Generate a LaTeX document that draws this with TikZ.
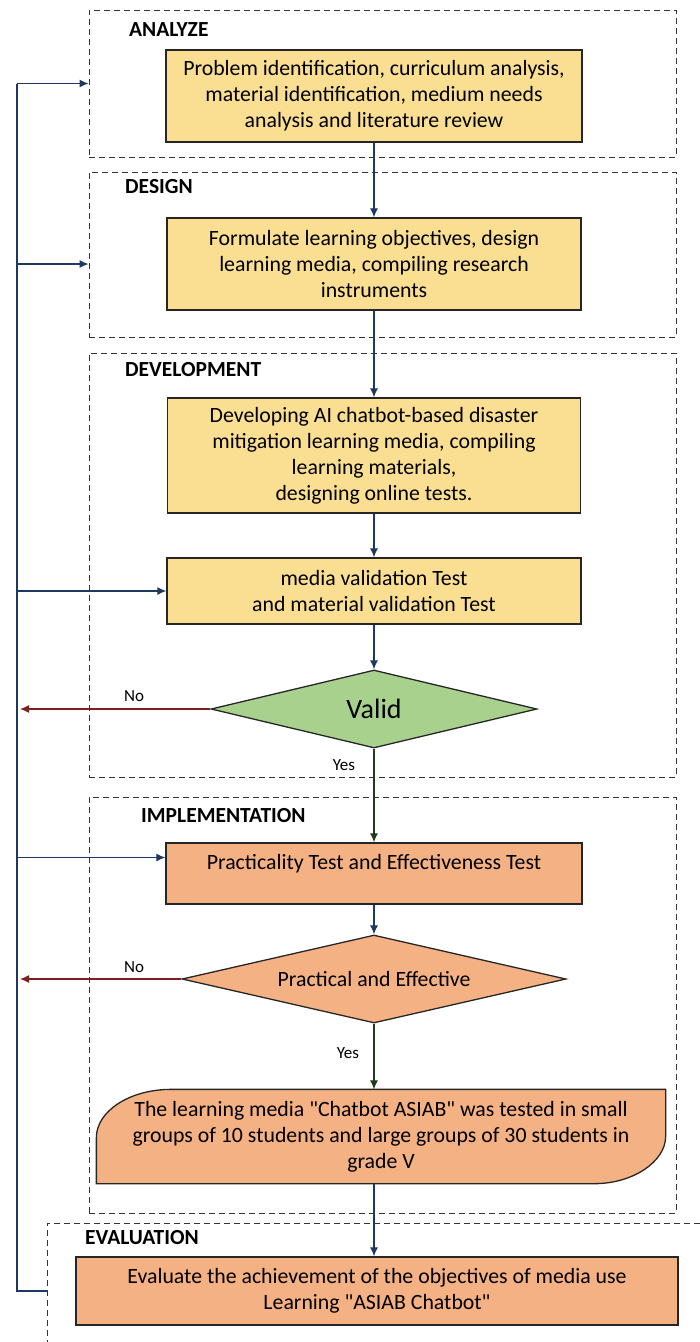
\documentclass[tikz,border=0pt]{standalone}
\usepackage{fontspec}
\setmainfont{Carlito}[Ligatures=TeXOff]
\usetikzlibrary{arrows.meta,shapes.geometric,calc,backgrounds}
\definecolor{boxyellow}{HTML}{FADF92}
\definecolor{boxorange}{HTML}{F4B183}
\definecolor{boxgreen}{HTML}{A9D18E}
\definecolor{arrnavy}{HTML}{1F3763}
\definecolor{arrred}{HTML}{7F1F1F}
\definecolor{arrgreen}{HTML}{1E3B1E}

\begin{document}
\begin{tikzpicture}[x=1pt,y=-1pt,
	stage/.style={draw=black!80,dash pattern=on 6pt off 4pt,line width=1pt,inner sep=0pt},
	phase/.style={anchor=west,font=\fontsize{21.5}{24}\selectfont\bfseries,inner sep=0pt},
	proc/.style={draw=black!85,line width=1.3pt,align=center,inner sep=0pt,font=\fontsize{21.8}{26}\selectfont},
	yel/.style={proc,fill=boxyellow},
	org/.style={proc,fill=boxorange},
	dec/.style={diamond,draw=black!85,line width=1.3pt,inner sep=0pt},
	flow/.style={-{Latex[length=9pt,width=8pt]},line width=1.2pt,draw=arrnavy},
	nobranch/.style={flow,draw=arrred},
	yesbranch/.style={flow,draw=arrgreen},
	tag/.style={font=\fontsize{17}{19}\selectfont,inner sep=0pt}]
	\useasboundingbox (0,0) rectangle (700,1342);
	% phases
	\node[stage,minimum width=587pt,minimum height=147pt] (anaF) at (382.5,83.5) {};
	\node[stage,minimum width=587pt,minimum height=165pt] (desF) at (382.5,254.5) {};
	\node[stage,minimum width=587pt,minimum height=424pt] (devF) at (382.5,565) {};
	\node[stage,minimum width=587pt,minimum height=416pt] (impF) at (382.5,1005) {};
	\node[stage,minimum width=673pt,minimum height=137pt] (evaF) at (383.5,1291.5) {};
	\node[phase] (anaL) at (129,30) {ANALYZE};
	\node[phase] (desL) at (125,187) {DESIGN};
	\node[phase] (devL) at (125,370) {DEVELOPMENT};
	\node[phase] (impL) at (141,816) {IMPLEMENTATION};
	\node[phase] (evaL) at (85,1238) {EVALUATION};
	% steps
	\node[yel,minimum width=416pt,minimum height=92pt] (b1) at (374,96)
		{Problem identification, curriculum analysis,\\ material identification, medium needs\\ analysis and literature review};
	\node[yel,minimum width=414pt,minimum height=92pt] (b2) at (374,264)
		{Formulate learning objectives, design\\ learning media, compiling research\\ instruments};
	\node[yel,minimum width=413pt,minimum height=115pt] (b3) at (374,455.5)
		{Developing AI chatbot-based disaster\\ mitigation learning media, compiling\\ learning materials,\\ designing online tests.};
	\node[yel,minimum width=414pt,minimum height=66pt] (b4) at (374,591)
		{media validation Test\\ and material validation Test};
	\node[dec,fill=boxgreen,minimum width=326pt,minimum height=78pt,
		label={[font=\fontsize{28}{30}\selectfont,inner sep=0pt]center:Valid}] (v1) at (374,709) {};
	\node[org,minimum width=416pt,minimum height=61pt,text depth=24pt] (b5) at (374,873.5)
		{Practicality Test and Effectiveness Test};
	\node[dec,fill=boxorange,minimum width=384pt,minimum height=88pt,
		label={[font=\fontsize{21.8}{24}\selectfont,inner sep=0pt]center:Practical and Effective}] (d2) at (374,979) {};
	\node[proc,draw=none,minimum width=568pt,minimum height=93pt] (s6) at (381,1136.5)
		{The learning media "Chatbot ASIAB" was tested in small\\ groups of 10 students and large groups of 30 students in\\ grade V};
	\begin{pgfonlayer}{background}
		\draw[fill=boxorange,draw=black!85,line width=1.3pt] (s6.south west) -- ($(s6.south west)+(0,-46)$)
			.. controls ($(s6.north west)+(0,22)$) and ($(s6.north west)+(33,0)$) .. ($(s6.north west)+(75,0)$)
			-- (s6.north east) -- ($(s6.north east)+(0,47)$)
			.. controls ($(s6.south east)+(0,-22)$) and ($(s6.south east)+(-33,0)$) .. ($(s6.south east)+(-71,0)$) -- cycle;
	\end{pgfonlayer}
	\node[org,minimum width=602pt,minimum height=68pt] (b7) at (377,1291)
		{Evaluate the achievement of the objectives of media use\\ Learning "ASIAB Chatbot"};
	% flow
	\coordinate (trunk) at (17,0);
	\coordinate (b5in) at ([yshift=16pt]b5.west);
	\draw[flow] (b1) -- (b2);
	\draw[flow] (b2) -- (b3);
	\draw[flow] (b3) -- (b4);
	\draw[flow] (b4) -- (v1);
	\draw[yesbranch] (v1.south) -- (b5.north);
	\draw[flow] (b5) -- (d2);
	\draw[yesbranch] (d2.south) -- (d2.south |- s6.north);
	\draw[flow] (d2.south |- s6.south) -- (d2.south |- b7.north);
	\draw[nobranch] (v1.west) -- ([xshift=3pt]trunk |- v1);
	\draw[nobranch] (d2.west) -- ([xshift=3pt]trunk |- d2);
	\node[tag] (no1) at (134,696) {No};
	\node[tag] (yes1) at (344,765) {Yes};
	\node[tag] (no2) at (134,967) {No};
	\node[tag] (yes2) at (348,1053) {Yes};
	% feedback
	\draw[arrnavy,line width=1.2pt] (evaF.west |- b7) -- (trunk |- b7) -- (trunk |- anaF);
	\draw[flow] (trunk |- anaF) -- (anaF.west);
	\draw[flow] (trunk |- b2) -- (b2 -| desF.west);
	\draw[flow] (trunk |- b4) -- (b4.west);
	\draw[flow] (trunk |- b5in) -- (b5in);
\end{tikzpicture}
\end{document}
